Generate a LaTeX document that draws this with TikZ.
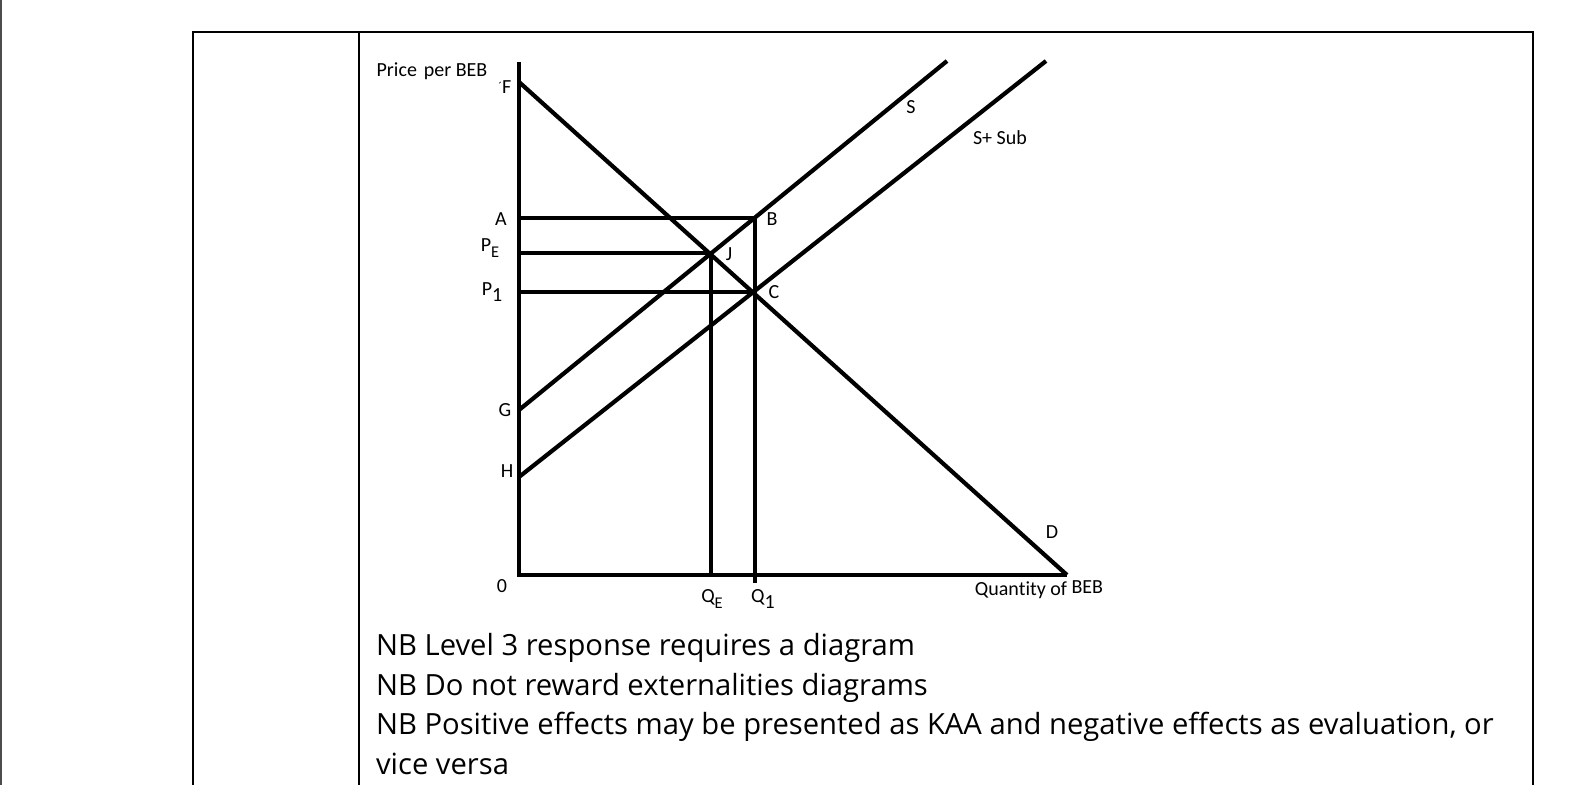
\documentclass[tikz,border=0pt]{standalone}
\usepackage{fontspec}
\setmainfont{Open Sans}
\newfontfamily\chartfont[Ligatures=NoCommon]{Carlito}
\newcommand\lowsub[1]{\raisebox{-0.55ex}{\fontsize{8.2}{8.5}\selectfont #1}}
\begin{document}
\begin{tikzpicture}[x=0.5pt,y=-0.5pt,
  frame/.style={line width=1pt, line cap=rect},
  axisline/.style={line width=2.3pt},
  curve/.style={line width=2.1pt},
  lbl/.style={font=\chartfont\fontsize{10}{11}\selectfont, inner sep=0pt},
  note/.style={font=\fontsize{14.6}{17}\selectfont, anchor=base west, inner sep=0pt}]
\useasboundingbox (0,0) rectangle (1587,785);
% page edge and table frame
\coordinate (edgeT) at (0.8,0);
\coordinate (edgeB) at (0.8,785);
\draw[line width=0.8pt, black!70] (edgeT) -- (edgeB);
\coordinate (tl) at (193,31.7);
\coordinate (tr) at (1533,31.7);
\coordinate (bl) at (193,785);
\coordinate (br) at (1533,785);
\coordinate (dt) at (359,31.7);
\coordinate (db) at (359,785);
\draw[frame] (bl) -- (tl) -- (tr) -- (br);
\draw[frame] (dt) -- (db);
% chart points
\coordinate (top) at (519,62);
\coordinate (O) at (519,575);
\coordinate (F) at (519,82);
\coordinate (G) at (519,410);
\coordinate (H) at (519,477);
\coordinate (A) at (519,218);
\coordinate (PE) at (519,253);
\coordinate (P1) at (519,292);
\coordinate (B) at (755,218);
\coordinate (J) at (711,253);
\coordinate (C) at (755,292);
\coordinate (QE) at (711,575);
\coordinate (Q1) at (755,583);
\coordinate (D) at (1067,575);
\coordinate (Send) at (947,61);
\coordinate (SSend) at (1046,61);
% axes
\draw[axisline] (top) -- (O) -- (D);
% curves
\draw[curve] (F) -- (D);
\draw[curve] (G) -- (Send);
\draw[curve] (H) -- (SSend);
\draw[curve] (A) -- (B) -- (Q1);
\draw[curve] (PE) -- (J) -- (QE);
\draw[curve] (P1) -- (C);
% labels
\node[lbl] (ylab) at (432,71) {Price\kern1.2pt\ per BEB};
\node[lbl] (Flab) at (505,87) {\raisebox{0.3ex}{\fontsize{6}{6}\selectfont ´}F};
\node[lbl] (Alab) at (501,219) {A};
\node[lbl] (PElab) at (490,248) {P\lowsub{E}};
\node[lbl] (P1lab) at (492,292) {P\raisebox{-0.6ex}{1}};
\node[lbl] (Glab) at (505,410) {G};
\node[lbl] (Hlab) at (507,471) {H};
\node[lbl] (Olab) at (502,586) {0};
\node[lbl] (Blab) at (772,219) {B};
\node[lbl] (Jlab) at (729,254) {J};
\node[lbl] (Clab) at (774,292) {C};
\node[lbl] (QElab) at (712,599) {Q\lowsub{E}};
\node[lbl] (Q1lab) at (763,599) {Q\raisebox{-0.6ex}{1}};
\node[lbl] (Dlab) at (1052,532) {D};
\node[lbl] (Slab) at (911,107) {S};
\node[lbl] (SSlab) at (1000,138) {S+ Sub};
\node[lbl] (xlab) at (1039,590) {Quantity of \raisebox{0.25ex}{BEB}};
% notes
\node[note] (n1) at (375.7,656) {NB Level 3 response requires a diagram};
\node[note] (n2) at (375.7,695.5) {NB Do not reward externalities diagrams};
\node[note] (n3) at (375.7,735) {NB Positive effects may be presented as KAA and negative effects as evaluation, or};
\node[note] (n4) at (375.7,774.5) {vice versa};
\end{tikzpicture}
\end{document}
